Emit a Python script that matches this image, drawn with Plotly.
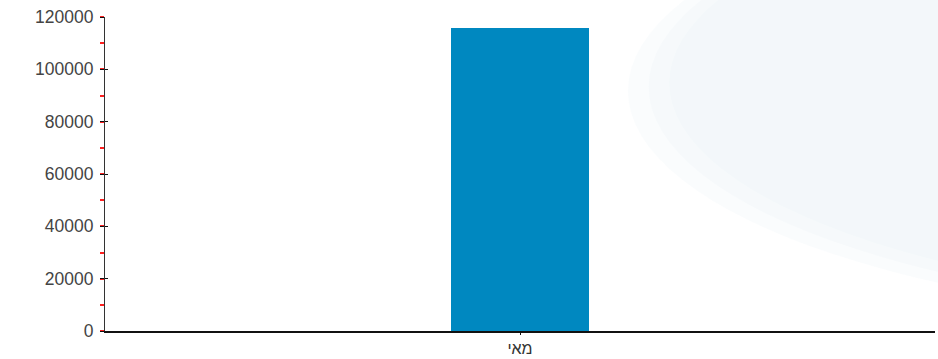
import plotly.graph_objects as go

categories = ["מאי"]
values = [115800]
y_ticks = [0, 20000, 40000, 60000, 80000, 100000, 120000]
y_labels = ["0", "20000", "40000", "60000", "80000", "100000", "120000"]

fig = go.Figure()
fig.add_trace(go.Bar(x=categories, y=values, marker=dict(color="#0088c0", line=dict(width=0)), width=0.167))
# invisible helper trace for crossing tick marks on the y axis
fig.add_trace(go.Scatter(x=categories, y=[None], yaxis="y2", showlegend=False, hoverinfo="skip"))

for k in range(3):
    d = 0.025 * k
    fig.add_shape(type="circle", xref="paper", yref="paper", x0=0.68 - d, x1=2.35, y0=0.074 - d, y1=1.506,
                  fillcolor="rgba(232,241,247,0.22)", line=dict(width=0), layer="below")

fig.update_layout(
    width=938, height=359,
    margin=dict(l=105, r=3, t=17, b=28),
    paper_bgcolor="#ffffff", plot_bgcolor="rgba(0,0,0,0)",
    font=dict(family="Liberation Sans, Arial, sans-serif", size=17.5, color="#444444"),
    showlegend=False,
    bargap=0,
    yaxis2=dict(overlaying="y", side="left", range=[0, 120000], tickvals=y_ticks, showticklabels=False,
                ticks="inside", ticklen=3, tickcolor="#111111", showgrid=False, zeroline=False, showline=False,
                automargin=False),
)
fig.update_xaxes(showline=True, linecolor="#111111", linewidth=1.5, ticks="outside", ticklen=2,
                 tickcolor="#111111", showgrid=False, range=[-0.5, 0.5], automargin=False,
                 ticklabelstandoff=0, tickfont=dict(size=16, color="#333333"))
fig.update_layout(yaxis=dict(
    range=[0, 120000], tickvals=y_ticks, ticktext=y_labels, showline=True, linecolor="#333333",
    linewidth=1, ticks="outside", ticklen=4, tickcolor="#111111", showgrid=False, zeroline=False,
    ticklabelstandoff=3, automargin=False,
    minor=dict(dtick=10000, tick0=0, ticks="outside", ticklen=4, tickcolor="#ff2020",
               tickwidth=2, showgrid=False)))

fig.write_html("out.html", config={"displayModeBar": False},
               post_script="document.body.style.margin='0';document.body.style.overflow='hidden';")
